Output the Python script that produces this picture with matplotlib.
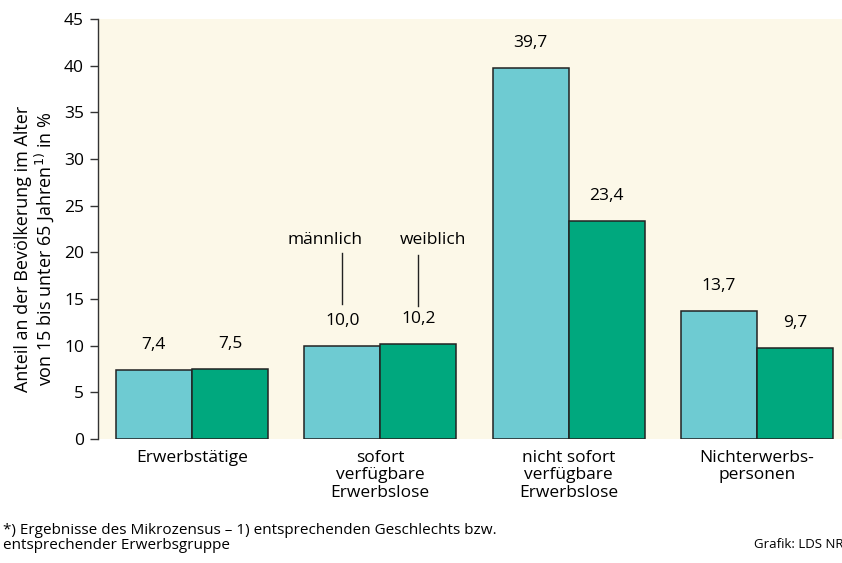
import numpy as np
import matplotlib.pyplot as plt

plt.rcParams['font.family'] = ['Open Sans', 'DejaVu Sans']

categories = ['Erwerbstätige', 'sofort\nverfügbare\nErwerbslose',
              'nicht sofort\nverfügbare\nErwerbslose', 'Nichterwerbs-\npersonen']
maennlich = [7.4, 10.0, 39.7, 13.7]
weiblich = [7.5, 10.2, 23.4, 9.7]
yticks = [0, 5, 10, 15, 20, 25, 30, 35, 40, 45]

light = '#6ecbd2'
dark = '#00a87e'
bg = '#fcf8e8'
fs = 12.5

fig = plt.figure(figsize=(8.42, 5.63), dpi=100)
ax = fig.add_axes([98 / 842, 124 / 563, 744 / 842, 420 / 563])
ax.set_facecolor(bg)

x = np.arange(len(categories))
w = 0.404
b1 = ax.bar(x - w / 2, maennlich, w, color=light, edgecolor='#222222', linewidth=1.1)
b2 = ax.bar(x + w / 2, weiblich, w, color=dark, edgecolor='#222222', linewidth=1.1)

for bars, vals in [(b1, maennlich), (b2, weiblich)]:
    for r, v in zip(bars, vals):
        ax.annotate(f'{v:.1f}'.replace('.', ','), (r.get_x() + r.get_width() / 2, v),
                    xytext=(0, 18), textcoords='offset points',
                    ha='center', va='center', fontsize=fs)

# legend-like labels above the second group
ax.text(1 - 0.294, 21.3, 'männlich', ha='center', va='center', fontsize=fs)
ax.text(1 + 0.28, 21.3, 'weiblich', ha='center', va='center', fontsize=fs)
ax.plot([1 - w / 2, 1 - w / 2], [19.9, 14.5], color='#222222', lw=1)
ax.plot([1 + w / 2, 1 + w / 2], [19.7, 14.2], color='#222222', lw=1)

ax.set_xlim(-0.499, 3.452)
ax.set_ylim(0, 45)
ax.set_yticks(yticks)
ax.set_yticklabels([str(t) for t in yticks], fontsize=fs)
ax.set_xticks(x)
ax.set_xticklabels(categories, fontsize=fs, linespacing=1.1)
ax.tick_params(axis='x', length=0, pad=8)
ax.tick_params(axis='y', length=6, width=1, color='#333333', pad=4)

for s in ['top', 'right', 'bottom']:
    ax.spines[s].set_visible(False)
ax.spines['left'].set_color('#333333')
ax.spines['left'].set_linewidth(1)

ax.set_ylabel('Anteil an der Bevölkerung im Alter\nvon 15 bis unter 65 Jahren$^{1)}$ in %',
              fontsize=13, linespacing=1.0)
ax.yaxis.set_label_coords(-0.057, 0.452)

fig.text(3 / 842, 1 - 538 / 563,
         '*) Ergebnisse des Mikrozensus – 1) entsprechenden Geschlechts bzw.\nentsprechender Erwerbsgruppe',
         fontsize=11, va='center', ha='left', linespacing=0.95)
fig.text(754 / 842, 1 - 545 / 563, 'Grafik: LDS NRW', fontsize=9.5, va='center', ha='left')

plt.savefig('out.png', dpi=100)
plt.close()
